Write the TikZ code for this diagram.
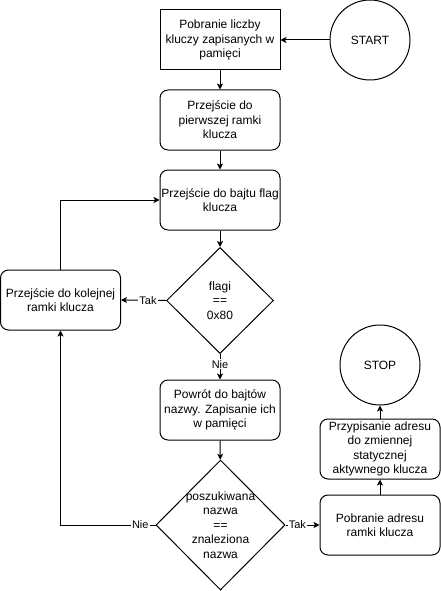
\documentclass[tikz,border=0pt]{standalone}
\usepackage{fontspec}
\setmainfont{Liberation Sans}
\usetikzlibrary{shapes.geometric,arrows.meta}
\begin{document}
\begin{tikzpicture}[x=1pt,y=-1pt,line width=1pt,
  txt/.style={font=\fontsize{12}{14.5}\selectfont,align=center},
  proc/.style={draw,txt,rounded corners=8pt,minimum width=120pt,minimum height=60pt,inner sep=1pt},
  sqbox/.style={proc,rounded corners=0pt},
  term/.style={draw,txt,circle,minimum size=80pt,inner sep=0pt},
  dec/.style={draw,diamond,inner sep=0pt},
  lbl/.style={fill=white,inner sep=1pt,font=\fontsize{11}{13}\selectfont},
  arr/.style={-{Stealth[length=6pt,width=6pt,inset=1.5pt]}}]
\useasboundingbox (0,0) rectangle (441,591);
\node[sqbox] (b1) at (220,40) {Pobranie liczby\\kluczy zapisanych w\\pamięci};
\node[term] (start) at (370,40) {START};
\node[proc] (b2) at (220,120) {Przejście do\\pierwszej ramki\\klucza};
\node[proc] (b3) at (220,200) {Przejście do bajtu flag\\klucza};
\node[dec,minimum width=107pt,minimum height=106pt,label={[txt]center:flagi\\==\\0x80}] (d1) at (220,300.5) {};
\node[proc] (left) at (60.5,300) {Przejście do kolejnej\\ramki klucza};
\node[proc] (b4) at (220,410) {Powrót do bajtów\\nazwy. Zapisanie ich\\w pamięci};
\node[dec,minimum width=129pt,minimum height=130pt,label={[txt]center:poszukiwana\\nazwa\\==\\znaleziona\\nazwa}] (d2) at (220.5,525) {};
\node[proc] (pobr) at (380,525) {Pobranie adresu\\ramki klucza};
\node[proc] (przyp) at (380,449) {Przypisanie adresu\\do zmiennej\\statycznej\\aktywnego klucza};
\node[term] (stop) at (380,365) {STOP};
\coordinate (c1) at (60.5,525);
\draw[arr] (start) -- (b1);
\draw[arr] (b1) -- (b2);
\draw[arr] (b2) -- (b3);
\draw[arr] (b3) -- (d1);
\draw[arr] (d1.west) -- node[lbl,pos=0.4]{Tak} (left.east);
\draw[arr] (d1.south) -- node[lbl,pos=0.4]{Nie} (b4.north);
\draw[arr] (left.north) |- (b3.west);
\draw[arr] (b4) -- (d2);
\draw[arr] (d2.west) -- node[lbl,pos=0.16]{Nie} (c1) -- (left.south);
\draw[arr] (d2.east) -- node[lbl,pos=0.35]{Tak} (pobr.west);
\draw[arr] (pobr) -- (przyp);
\draw[arr] (przyp) -- (stop);
\end{tikzpicture}
\end{document}
